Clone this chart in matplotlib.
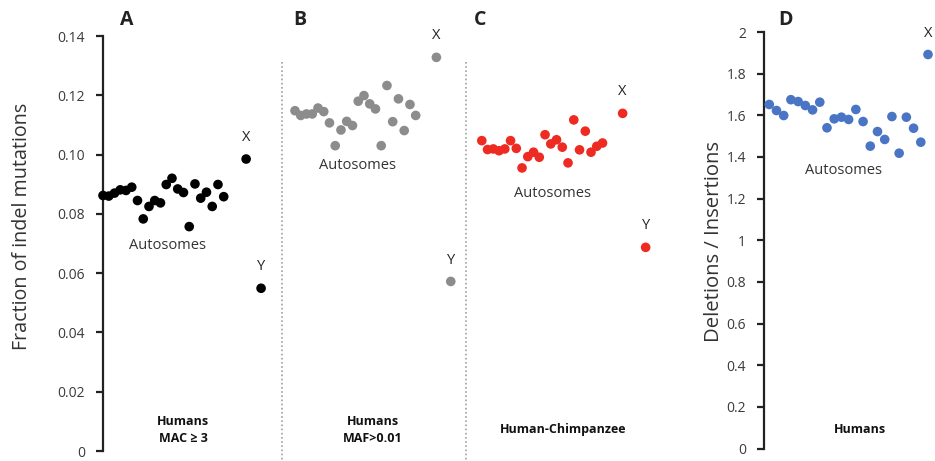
import matplotlib
matplotlib.use("Agg")
import matplotlib.pyplot as plt
import numpy as np

plt.rcParams['font.family'] = ['Open Sans', 'DejaVu Sans']

W, H = 935, 461

# ---------------- data ----------------
auto_A = [0.0862, 0.0860, 0.0870, 0.0881, 0.0879, 0.0890, 0.0845, 0.0783, 0.0825, 0.0845, 0.0837,
          0.0899, 0.0920, 0.0884, 0.0872, 0.0757, 0.0901, 0.0853, 0.0873, 0.0825, 0.0899, 0.0858]
X_A, Y_A = 0.0985, 0.0549

auto_B = [0.1148, 0.1132, 0.1137, 0.1137, 0.1157, 0.1145, 0.1107, 0.1030, 0.1083, 0.1112, 0.1098,
          0.1180, 0.1199, 0.1171, 0.1154, 0.1030, 0.1233, 0.1111, 0.1188, 0.1081, 0.1169, 0.1132]
X_B, Y_B = 0.1328, 0.0572

auto_C = [0.1047, 0.1017, 0.1019, 0.1013, 0.1019, 0.1047, 0.1021, 0.0955, 0.0993, 0.1008, 0.0991,
          0.1067, 0.1036, 0.1050, 0.1025, 0.0972, 0.1117, 0.1016, 0.1079, 0.1008, 0.1028, 0.1039]
X_C, Y_C = 0.1139, 0.0687

auto_D = [1.652, 1.623, 1.599, 1.675, 1.666, 1.647, 1.626, 1.663, 1.540, 1.583, 1.591,
          1.580, 1.628, 1.570, 1.452, 1.522, 1.484, 1.594, 1.418, 1.591, 1.538, 1.471]
X_D = 1.892

left_ticks = [0, 0.02, 0.04, 0.06, 0.08, 0.10, 0.12, 0.14]
left_ticklabels = ['0', '0.02', '0.04', '0.06', '0.08', '0.10', '0.12', '0.14']
right_ticks = [0, 0.2, 0.4, 0.6, 0.8, 1.0, 1.2, 1.4, 1.6, 1.8, 2.0]
right_ticklabels = ['0', '0.2', '0.4', '0.6', '0.8', '1', '1.2', '1.4', '1.6', '1.8', '2']

# ---------------- figure ----------------
fig = plt.figure(figsize=(W / 100, H / 100), dpi=100)

def fx(x):
    return x / W

def fy(y):
    return 1 - y / H

ax1 = fig.add_axes([fx(103), fy(451), fx(660 - 103), (451 - 36) / H])
ax2 = fig.add_axes([fx(764), fy(448.5), fx(935 - 764), (448.5 - 32) / H])

ms = 48
tick_col = '#3a3a3a'

def style(ax):
    for s in ['top', 'right', 'bottom']:
        ax.spines[s].set_visible(False)
    ax.spines['left'].set_linewidth(1.6)
    ax.spines['left'].set_color('#222222')
    ax.tick_params(axis='y', direction='out', length=5, width=1.6, color='#222222',
                   labelsize=10, labelcolor=tick_col, pad=8)
    ax.set_xticks([])
    ax.patch.set_alpha(0)

style(ax1)
style(ax2)

n = len(auto_A)
idx = np.arange(n)

panels = [
    (0.0, 24.9, 27.5, auto_A, X_A, Y_A, 'black'),
    (33.4, 58.0, 60.5, auto_B, X_B, Y_B, '#8c8c8c'),
    (65.9, 90.4, 94.4, auto_C, X_C, Y_C, '#ee2b22'),
]
for start, xx, yy, auto, xv, yv, col in panels:
    ax1.scatter(start + idx, auto, s=ms, color=col, edgecolors='none', clip_on=False, zorder=3)
    ax1.scatter([xx, yy], [xv, yv], s=ms, color=col, edgecolors='none', clip_on=False, zorder=3)
    ax1.annotate('X', (xx, xv), xytext=(0, 10), textcoords='offset points',
                 ha='center', va='bottom', fontsize=10.5, color='#222222')
    ax1.annotate('Y', (yy, yv), xytext=(0, 10), textcoords='offset points',
                 ha='center', va='bottom', fontsize=10.5, color='#222222')

ax1.set_xlim(0, 96.9)
ax1.set_ylim(0, 0.14)
ax1.set_yticks(left_ticks)
ax1.set_yticklabels(left_ticklabels)

for xd in [31.1, 63.1]:
    ax1.plot([xd, xd], [0.1312, -0.0034], linestyle=(0, (1, 1.5)), color='#a0a0a0',
             linewidth=1.2, clip_on=False)

ax1.text(11.3, 0.0693, 'Autosomes', ha='center', va='center', fontsize=10.5, color='#333333')
ax1.text(44.2, 0.0963, 'Autosomes', ha='center', va='center', fontsize=10.5, color='#333333')
ax1.text(78.2, 0.0867, 'Autosomes', ha='center', va='center', fontsize=10.5, color='#333333')

# panel D
xD = np.arange(1, n + 1)
ax2.scatter(xD, auto_D, s=ms, color='#4a74c4', edgecolors='none', clip_on=False, zorder=3)
ax2.scatter([n + 1], [X_D], s=ms, color='#4a74c4', edgecolors='none', clip_on=False, zorder=3)
ax2.annotate('X', (n + 1, X_D), xytext=(0, 10), textcoords='offset points',
             ha='center', va='bottom', fontsize=10.5, color='#222222')
ax2.set_xlim(0.27, 23.97)
ax2.set_ylim(0, 2)
ax2.set_yticks(right_ticks)
ax2.set_yticklabels(right_ticklabels)
ax2.text(11.25, 1.337, 'Autosomes', ha='center', va='center', fontsize=10.5, color='#333333')

# axis titles
fig.text(fx(22), fy(226), 'Fraction of indel mutations', rotation=90, ha='center', va='center',
         fontsize=14.2, color='#333333')
fig.text(fx(714), fy(241), 'Deletions / Insertions', rotation=90, ha='center', va='center',
         fontsize=14.6, color='#333333')

# panel letters
for lab, x in [('A', 127), ('B', 300), ('C', 480), ('D', 786)]:
    fig.text(fx(x), fy(20), lab, ha='center', va='center', fontsize=14, fontweight='bold', color='#222222')

# bottom labels
bl = dict(ha='center', va='center', fontsize=9, fontweight='bold', color='#111111')
fig.text(fx(183), fy(421), 'Humans', **bl)
fig.text(fx(183), fy(438), 'MAC ≥ 3', **bl)
fig.text(fx(373), fy(421), 'Humans', **bl)
fig.text(fx(373), fy(438), 'MAF>0.01', **bl)
fig.text(fx(563), fy(429), 'Human-Chimpanzee', **bl)
fig.text(fx(860), fy(429), 'Humans', **bl)

fig.savefig('out.png', dpi=100)
